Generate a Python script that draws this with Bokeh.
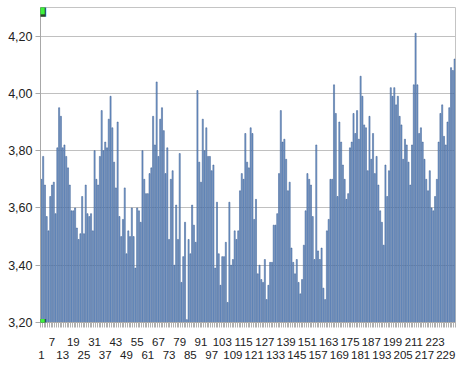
from bokeh.plotting import figure
from bokeh.models import Range1d, FixedTicker, LinearAxis, Label
from bokeh.embed import file_html
from bokeh.resources import INLINE

# values, in segments of consecutive bars
vals_a = [3.70,3.78,3.68,3.57,3.52,3.64,3.68,3.69,3.58,3.81,3.95,3.92,3.81,3.82,3.78,3.74,3.68,3.59,3.59,3.60,
          3.53,3.49,3.51,3.64,3.51,3.68,3.58,3.57,3.58,3.52,3.80,3.70,3.68,3.78,3.94,3.80,3.83,3.81,3.91,3.99]
vals_b = [3.88,3.76,3.67,3.90,3.57,3.50,3.56,3.67,3.44,3.52,3.50,3.60,3.50,3.39,3.60,3.59,3.55,3.80,3.70,3.65,
          3.65,3.72,3.74,3.92,3.82,4.04,3.78,3.91,3.95,3.87,3.72,3.81,3.49,3.70,3.73,3.40,3.61,3.49,3.79]
vals_c = [3.34,3.43,3.55,3.21,3.49,3.44,3.61,3.54,3.48,4.01,3.76,3.69,3.91,3.80,3.88,3.78,3.78,3.73,3.75,3.39,
          3.62,3.44,3.33,3.43,3.43,3.48,3.27,3.62,3.40,3.42,3.52,3.49,3.52,3.66,3.72,3.70,3.86,3.76,3.74]
vals_d = [3.88,3.86,3.56,3.63,3.37,3.40,3.35,3.34,3.42,3.28,3.33,3.41,3.41,3.54,3.54,3.58,3.72,3.94,3.83,3.84,
          3.77,3.66,3.69,3.46,3.41,3.37,3.42,3.34,3.30,3.35,3.47,3.59,3.72,3.70,3.68,3.57,3.42,3.82,3.45]
vals_e = [3.42,3.46,3.32,3.28,3.52,3.56,3.70,3.70,4.03,3.93,3.64,3.90,3.83,3.75,3.70,3.63,3.65,3.81,3.83,3.93,
          3.86,3.94,3.84,4.06,3.99,3.89,3.88,3.73,3.92,3.77,3.86,3.72,3.78,3.68,3.59,3.55,3.47,3.75,3.64]
vals_f = [3.73,4.02,3.99,4.02,3.96,3.99,3.92,3.89,3.77,3.84,3.82,3.76,3.68,3.82,4.03,4.21,4.03,3.86,3.88,3.83,
          3.77,3.70,3.66,3.73,3.60,3.59,3.64,3.70,3.83,3.93,3.96,3.85,3.82,3.90,3.95,4.09,4.08,4.12]

values = vals_a + vals_b + vals_c + vals_d + vals_e + vals_f
categories = list(range(1, len(values) + 1))

y_ticks = [3.2, 3.4, 3.6, 3.8, 4.0, 4.2]
y_labels = ["3,20", "3,40", "3,60", "3,80", "4,00", "4,20"]
x_labels_row1 = list(range(7, 230, 12))
x_labels_row2 = list(range(1, 230, 12))
y_min, y_max = 3.2, 4.3

N = len(values)
p = figure(width=460, height=361, output_backend="svg", toolbar_location=None,
           x_range=Range1d(0.5, N + 0.5), y_range=Range1d(y_min, y_max),
           min_border_left=40, min_border_right=5, min_border_top=7, min_border_bottom=10,
           x_axis_location=None)
p.outline_line_color = "#c4c4c4"
p.background_fill_color = "white"
p.border_fill_color = "white"

p.vbar(x=categories, top=values, bottom=y_min, width=0.62,
       fill_color="#80a5d6", line_color="#2f5289", line_width=0.5)

# y axis
ya = p.yaxis[0]
ya.ticker = FixedTicker(ticks=y_ticks)
ya.major_label_overrides = {t: l for t, l in zip(y_ticks, y_labels)}
ya.axis_line_color = "#a8a8a8"
ya.major_tick_line_color = "#a8a8a8"
ya.major_tick_out = 5
ya.major_tick_in = 0
ya.minor_tick_line_color = None
ya.major_label_standoff = 3
ya.major_label_text_font = "Liberation Sans"
ya.major_label_text_font_size = "12.5px"
ya.major_label_text_color = "#222222"

p.ygrid.ticker = FixedTicker(ticks=y_ticks)
p.ygrid.grid_line_color = "#c0c0c0"
p.ygrid.grid_line_width = 1
p.xgrid.grid_line_color = None

# x axis, row 1 with dense tick marks
xa1 = LinearAxis(ticker=FixedTicker(ticks=x_labels_row1,
                                    minor_ticks=[c - 0.5 for c in categories] + [N + 0.5]))
xa1.axis_line_color = "#a8a8a8"
xa1.major_tick_line_color = None
xa1.minor_tick_line_color = "#b0b0b0"
xa1.minor_tick_out = 5
xa1.minor_tick_in = 0
xa1.major_tick_out = 0
xa1.major_label_standoff = 10
xa1.major_label_text_font = "Liberation Sans"
xa1.major_label_text_font_size = "11.5px"
xa1.major_label_text_color = "#222222"
p.add_layout(xa1, "below")

xa2 = LinearAxis(ticker=FixedTicker(ticks=x_labels_row2, minor_ticks=[]))
xa2.axis_line_color = None
xa2.major_tick_line_color = None
xa2.minor_tick_line_color = None
xa2.major_tick_out = 0
xa2.major_label_standoff = 2
xa2.major_label_text_font = "Liberation Sans"
xa2.major_label_text_font_size = "11.5px"
xa2.major_label_text_color = "#222222"
p.add_layout(xa2, "below")

# selection handles at the axis ends: dark square with green square on top
for yy, off in ((y_min, 0), (y_max, -2)):
    p.add_layout(Label(x=0.5, y=yy, y_offset=off, text="\u25A0", text_color="#2a4a2a",
                       text_font_size="14px", text_font="DejaVu Sans",
                       text_align="center", text_baseline="middle", level="overlay"))
    p.add_layout(Label(x=0.5, y=yy, y_offset=off, text="\u25A0", text_color="#3ef23e",
                       text_font_size="11px", text_font="DejaVu Sans",
                       text_align="center", text_baseline="middle", level="overlay"))

open("out.html", "w").write(file_html(p, INLINE))
